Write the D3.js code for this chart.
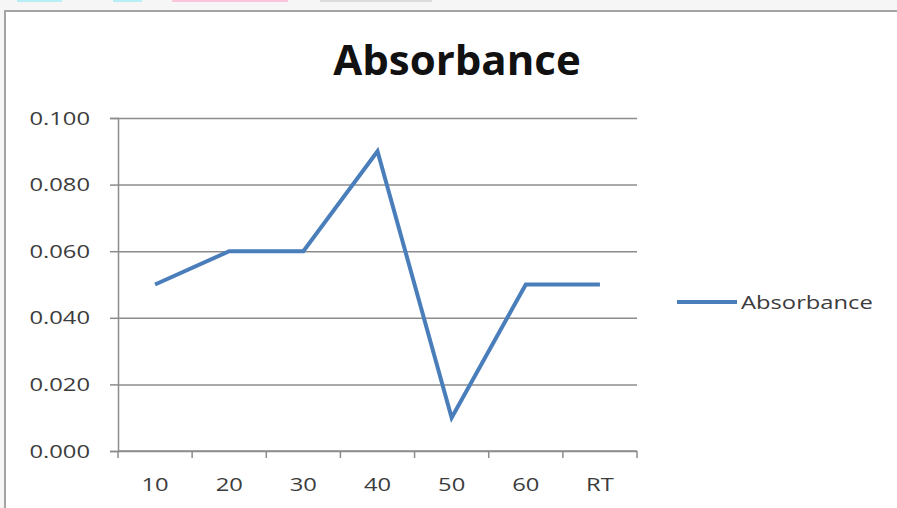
<!DOCTYPE html>
<html>
<head>
<meta charset="utf-8">
<script src="https://cdn.jsdelivr.net/npm/d3@7"></script>
<style>
  html, body { margin: 0; padding: 0; background: #ffffff; }
  svg { display: block; }
</style>
</head>
<body>
<svg id="chart" width="897" height="508"></svg>
<script>
// Absorbance readings per temperature step
const categories = ["10", "20", "30", "40", "50", "60", "RT"];
const absorbance = [0.050, 0.060, 0.060, 0.090, 0.010, 0.050, 0.050];
const yTicks = [0, 0.02, 0.04, 0.06, 0.08, 0.10];
const seriesName = "Absorbance";
const chartTitle = "Absorbance";

const W = 897, H = 508;
const plot = { left: 118, right: 637, top: 118, bottom: 451 };
const lineColor = "#4a7ebb";
const gridColor = "#8c8c8c";
const textColor = "#3c3c3c";
const stretch = 1.25; // horizontal widening of small label text

const svg = d3.select("#chart");

// window chrome above / left of the chart frame
svg.append("rect").attr("x", 0).attr("y", 0).attr("width", W).attr("height", H).attr("fill", "#f6f6f6");
svg.append("rect").attr("x", 5).attr("y", 11).attr("width", W).attr("height", H).attr("fill", "#ffffff");
const tabs = [[17, 62, "#b8eef6"], [113, 142, "#b8eef6"], [172, 288, "#f9c6dc"], [320, 432, "#dcdcdc"]];
svg.selectAll("rect.tab").data(tabs).enter().append("rect")
  .attr("class", "tab")
  .attr("x", d => d[0]).attr("y", 0)
  .attr("width", d => d[1] - d[0]).attr("height", 2)
  .attr("fill", d => d[2]);

// chart frame
svg.append("path")
  .attr("d", `M5,${H} L5,11 L${W},11`)
  .attr("fill", "none").attr("stroke", "#a4a4a4").attr("stroke-width", 2);

const x = d3.scaleBand().domain(categories).range([plot.left, plot.right]).padding(0);
const y = d3.scaleLinear().domain([0, 0.1]).range([plot.bottom, plot.top]);

// horizontal gridlines with left tick marks
const yAxis = d3.axisLeft(y).tickValues(yTicks).tickSize(8).tickFormat(d3.format(".3f"));
const gy = svg.append("g").attr("transform", `translate(${plot.left},0)`).call(yAxis);
gy.select(".domain").attr("stroke", gridColor).attr("stroke-width", 1.5);
gy.selectAll(".tick line").attr("stroke", gridColor).attr("stroke-width", 1.5);
gy.selectAll(".tick").append("line")
  .attr("x1", 0).attr("x2", plot.right - plot.left)
  .attr("stroke", gridColor).attr("stroke-width", 1.5);
gy.selectAll(".tick text").remove();
gy.selectAll(".tick").append("text")
  .attr("transform", `translate(-28,6) scale(${stretch},1)`)
  .attr("text-anchor", "end")
  .attr("font-family", "'Open Sans', sans-serif")
  .attr("font-size", 19)
  .attr("fill", textColor)
  .text(d => d3.format(".3f")(d));

// category axis: ticks at band boundaries
const xAxisG = svg.append("g").attr("transform", `translate(0,${plot.bottom})`);
xAxisG.append("line")
  .attr("x1", plot.left).attr("x2", plot.right)
  .attr("stroke", gridColor).attr("stroke-width", 1.5);
const bounds = categories.map(c => x(c)).concat([x(categories[categories.length - 1]) + x.bandwidth()]);
xAxisG.selectAll("line.tk").data(bounds).enter().append("line")
  .attr("class", "tk")
  .attr("x1", d => d).attr("x2", d => d)
  .attr("y1", 0).attr("y2", 7)
  .attr("stroke", gridColor).attr("stroke-width", 1.5);
xAxisG.selectAll("text").data(categories).enter().append("text")
  .attr("transform", d => `translate(${x(d) + x.bandwidth() / 2},40) scale(${stretch},1)`)
  .attr("text-anchor", "middle")
  .attr("font-family", "'Open Sans', sans-serif")
  .attr("font-size", 19)
  .attr("fill", textColor)
  .text(d => d);

// series line
const line = d3.line()
  .x((d, i) => x(categories[i]) + x.bandwidth() / 2)
  .y(d => y(d));
svg.append("path")
  .datum(absorbance)
  .attr("d", line)
  .attr("fill", "none")
  .attr("stroke", lineColor)
  .attr("stroke-width", 4)
  .attr("stroke-linejoin", "miter");

// title
svg.append("text")
  .attr("x", 457).attr("y", 75)
  .attr("text-anchor", "middle")
  .attr("font-family", "'Open Sans', sans-serif")
  .attr("font-weight", "bold")
  .attr("font-size", 42)
  .attr("fill", "#111111")
  .text(chartTitle);

// legend
const lg = svg.append("g");
lg.append("line")
  .attr("x1", 677).attr("x2", 737).attr("y1", 302).attr("y2", 302)
  .attr("stroke", lineColor).attr("stroke-width", 4);
lg.append("text")
  .attr("transform", `translate(741,309) scale(${stretch},1)`)
  .attr("font-family", "'Open Sans', sans-serif")
  .attr("font-size", 19)
  .attr("fill", textColor)
  .text(seriesName);
</script>
</body>
</html>
